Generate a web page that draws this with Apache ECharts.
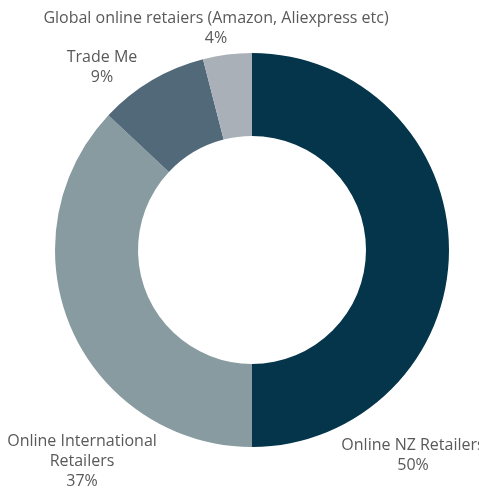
<!DOCTYPE html>
<html>
<head>
<meta charset="utf-8">
<script src="https://cdn.jsdelivr.net/npm/echarts@6/dist/echarts.min.js"></script>
<style>
  html, body { margin: 0; padding: 0; background: #fff; }
  #chart { width: 479px; height: 492px; }
</style>
</head>
<body>
<div id="chart"></div>
<script>
const categories = ['Online NZ Retailers', 'Online International Retailers', 'Trade Me', 'Global online retaiers (Amazon, Aliexpress etc)']
const labelNames = ['Online NZ Retailers', 'Online International\nRetailers', 'Trade Me', 'Global online retaiers (Amazon, Aliexpress etc)']
const values = [50, 37, 9, 4]
const colors = ['#04354a', '#879ba0', '#52697a', '#aab0b8']
// label anchor points (centre of each text block), as Excel placed them
const labelPos = [[413, 455], [82, 461], [102, 67], [216, 28]]

const chart = echarts.init(document.getElementById('chart'))
chart.setOption({
  animation: false,
  color: colors,
  series: [{
    type: 'pie',
    center: [252, 250],
    radius: [114, 197],
    startAngle: 90,
    clockwise: true,
    avoidLabelOverlap: false,
    data: categories.map((c, i) => ({ name: c, value: values[i] })),
    label: {
      show: true,
      position: 'outside',
      color: '#595959',
      fontFamily: 'Open Sans',
      fontSize: 16,
      lineHeight: 20,
      align: 'center',
      overflow: 'none',
      formatter: p => labelNames[p.dataIndex] + '\n' + p.value + '%'
    },
    labelLine: { show: false },
    labelLayout: p => ({
      x: labelPos[p.dataIndex][0],
      y: labelPos[p.dataIndex][1],
      align: 'center',
      verticalAlign: 'middle',
      hideOverlap: false
    }),
    emphasis: { disabled: true }
  }]
})
</script>
</body>
</html>
